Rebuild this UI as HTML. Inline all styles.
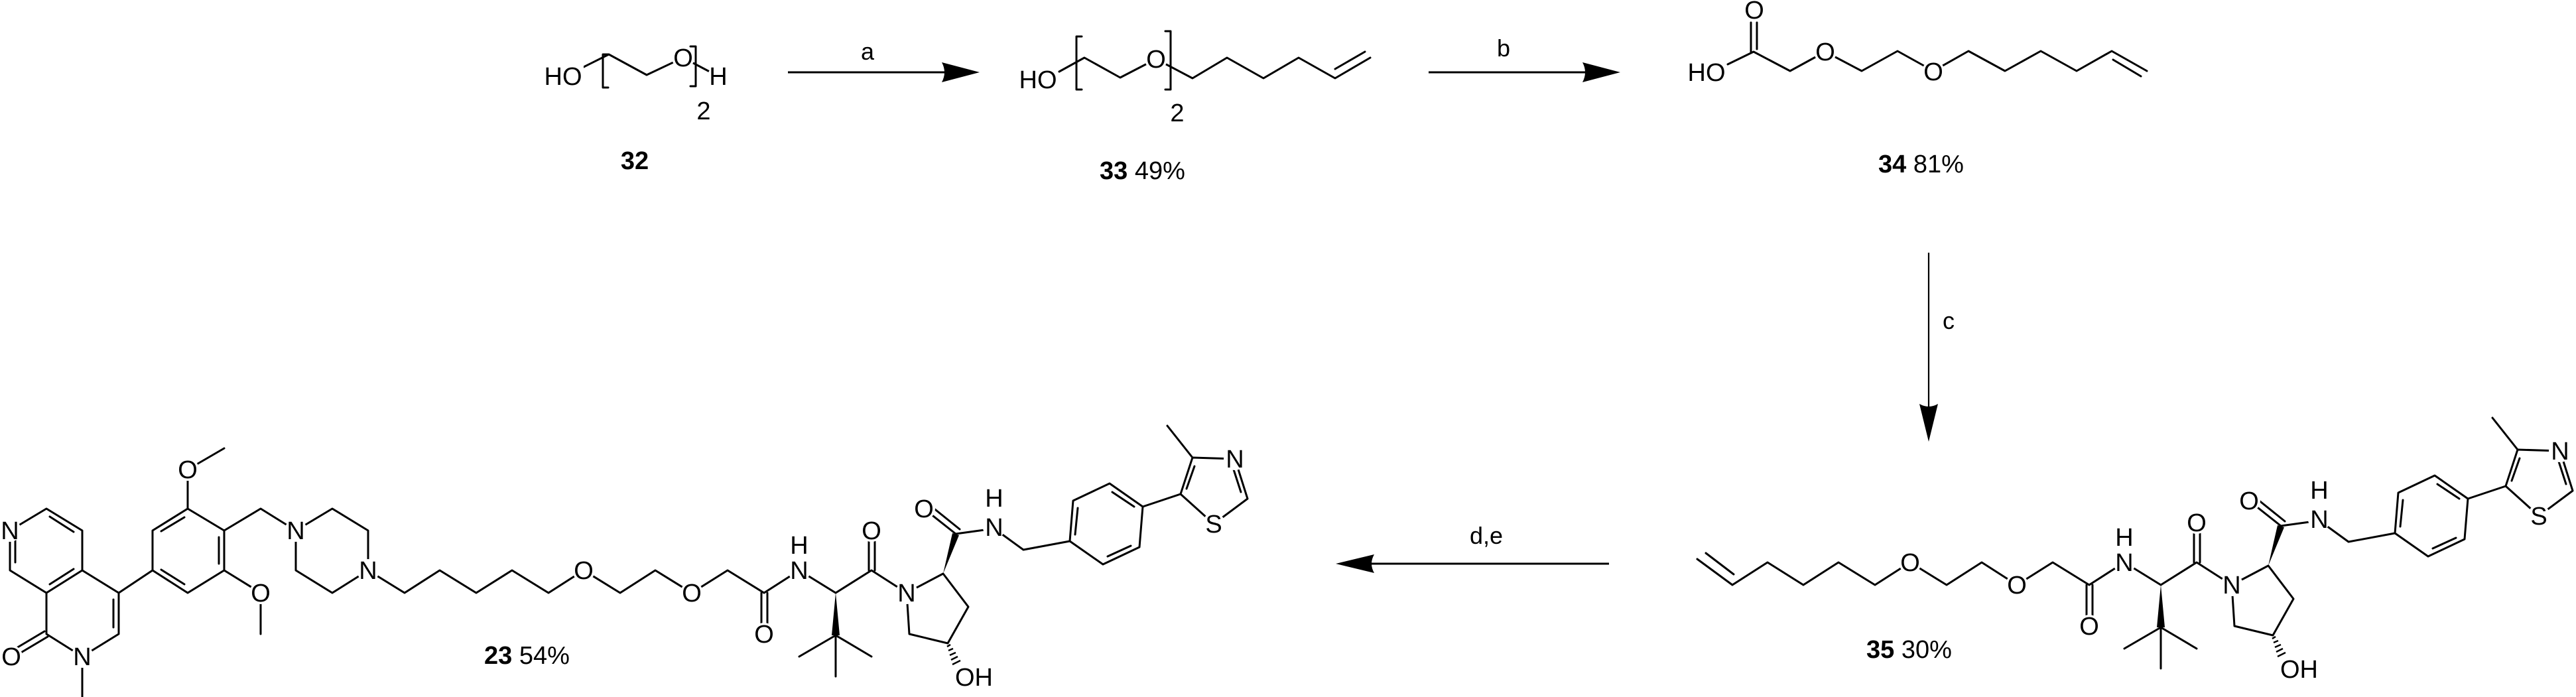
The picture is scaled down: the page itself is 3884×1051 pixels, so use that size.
<!DOCTYPE html>
<html><head><meta charset="utf-8"><style>
html,body{margin:0;padding:0;background:#fff;}
svg{display:block;}
.b{stroke:#000;stroke-width:3;fill:none;stroke-linecap:round;stroke-linejoin:round;}
.t{font-family:"Liberation Sans",Arial,sans-serif;font-size:38px;text-anchor:middle;fill:#000;}
.l{font-family:"Liberation Sans",Arial,sans-serif;font-size:36px;text-anchor:middle;fill:#000;}
.c{font-family:"Liberation Sans",Arial,sans-serif;font-size:38px;fill:#000;}
.w{fill:#fff;}
</style></head><body>
<svg width="3884" height="1051" viewBox="0 0 3884 1051" xmlns="http://www.w3.org/2000/svg">
<rect width="3884" height="1051" fill="#fff"/>

<!-- 32 -->
<g>
<path class="b" d="M880 101 L918 82 L975 113 L1030 87 L1083 115"/>
<path class="b" d="M917 82 L909 82 L909 132 L917 132"/>
<path class="b" d="M1041 70 L1049 70 L1049 130 L1041 130"/>
<rect class="w" x="820" y="97" width="60" height="36"/>
<circle class="w" cx="1030" cy="87" r="17"/>
<circle class="w" cx="1083" cy="115" r="16"/>
<text class="t" x="849" y="128">HO</text>
<text class="t" x="1030" y="100">O</text>
<text class="t" x="1083" y="128">H</text>
<text class="t" x="1061" y="180">2</text>
<text class="c" x="957" y="255" text-anchor="middle" font-weight="bold">32</text>
</g>

<!-- arrow a -->
<line x1="1188" y1="109" x2="1428" y2="109" stroke="#000" stroke-width="3"/>
<path d="M1477 109 L1420 94 Q1428 109 1420 124 Z" fill="#000"/>
<text class="l" x="1308" y="90">a</text>

<!-- 33 -->
<g>
<path class="b" d="M1597 108 L1635 87 L1689 117 L1743 89 L1798 118 L1850 87 L1905 118 L1958 87 L2013 118 L2066 87"/>
<path class="b" d="M2013 104 L2058 78"/>
<path class="b" d="M1631 55 L1623 55 L1623 135 L1631 135"/>
<path class="b" d="M1757 47 L1765 47 L1765 135 L1757 135"/>
<rect class="w" x="1535" y="102" width="60" height="36"/>
<circle class="w" cx="1743" cy="89" r="17"/>
<text class="t" x="1565" y="133">HO</text>
<text class="t" x="1743" y="102">O</text>
<text class="t" x="1775" y="183">2</text>
<text class="c" x="1658" y="270"><tspan font-weight="bold">33</tspan> 49%</text>
</g>

<!-- arrow b -->
<line x1="2154" y1="109" x2="2394" y2="109" stroke="#000" stroke-width="3"/>
<path d="M2443 109 L2386 94 Q2394 109 2386 124 Z" fill="#000"/>
<text class="l" x="2267" y="85">b</text>

<!-- 34 -->
<g>
<path class="b" d="M2605 97 L2644 78 L2699 107 L2752 78 L2807 107 L2861 77 L2915 107 L2968 77 L3023 107 L3077 77 L3131 107 L3184 77 L3237 107"/>
<path class="b" d="M2640 78 L2640 34 M2649 74 L2649 34"/>
<path class="b" d="M3186 90 L3228 115"/>
<rect class="w" x="2543" y="91" width="60" height="36"/>
<circle class="w" cx="2645" cy="15" r="17"/>
<circle class="w" cx="2752" cy="78" r="17"/>
<circle class="w" cx="2915" cy="108" r="17"/>
<text class="t" x="2573" y="122">HO</text>
<text class="t" x="2645" y="28">O</text>
<text class="t" x="2752" y="91">O</text>
<text class="t" x="2915" y="121">O</text>
<text class="c" x="2832" y="260"><tspan font-weight="bold">34</tspan> 81%</text>
</g>

<!-- arrow c -->
<line x1="2908" y1="381" x2="2908" y2="618" stroke="#000" stroke-width="2.2"/>
<path d="M2908 666 L2894 609 Q2908 617 2922 609 Z" fill="#000"/>
<text class="l" x="2938" y="496">c</text>

<!-- arrow d,e -->
<line x1="2426" y1="850" x2="2064" y2="850" stroke="#000" stroke-width="3"/>
<path d="M2014 850 L2072 836 Q2064 850 2072 864 Z" fill="#000"/>
<text class="l" x="2241" y="820">d,e</text>

<!-- shared fragment (23 coordinates) -->
<defs>
<g id="frag">
<path class="b" d="M1043 894 L1097 860 L1152 894 L1205 860 L1260 894 L1314 860 L1367 894 L1422 865 L1460 915 L1429 970 L1371 956 L1367 894"/>
<path class="b" d="M1148 894 L1148 940 M1157 894 L1157 940"/>
<path class="b" d="M1310 860 L1310 815 M1319 860 L1319 815"/>
<path class="b" d="M1260 958 L1205 990 M1260 958 L1314 990 M1260 958 L1260 1020"/>
<polygon points="1260,894 1254,958 1266,958" fill="#000"/>
<polygon points="1422,865 1436,804 1446,807" fill="#000"/>
<path class="b" d="M1441 805 L1393 767 M1447 798 L1401 761"/>
<path class="b" d="M1441 805 L1499 797 L1543 829 L1613 816"/>
<path class="b" d="M1613 816 L1618 755 L1673 729 L1723 764 L1718 825 L1663 851 Z"/>
<path class="b" d="M1621 806 L1625 766 M1677 742 L1710 764 M1705 823 L1670 839"/>
<path class="b" d="M1723 764 L1780 745"/>
<path class="b" d="M1780 745 L1798 690 L1862 692 L1881 752 L1830 790 Z"/>
<path class="b" d="M1789 737 L1801 703 M1860 708 L1871 742 M1798 690 L1760 642"/>
<path d="M1428 975 L1433 972 M1430 981 L1437 978 M1432 988 L1441 984 M1434 995 L1444 990 M1436 1002 L1448 996" stroke="#000" stroke-width="2.5"/>
<circle class="w" cx="1043" cy="894" r="17"/>
<circle class="w" cx="1152" cy="956" r="17"/>
<circle class="w" cx="1205" cy="860" r="17"/>
<circle class="w" cx="1314" cy="800" r="17"/>
<circle class="w" cx="1367" cy="894" r="17"/>
<circle class="w" cx="1393" cy="767" r="17"/>
<circle class="w" cx="1499" cy="795" r="17"/>
<circle class="w" cx="1862" cy="692" r="17"/>
<circle class="w" cx="1830" cy="790" r="17"/>
<text class="t" x="1043" y="907">O</text>
<text class="t" x="1152" y="969">O</text>
<text class="t" x="1205" y="873">N</text>
<text class="t" x="1205" y="835">H</text>
<text class="t" x="1314" y="813">O</text>
<text class="t" x="1367" y="907">N</text>
<text class="t" x="1393" y="780">O</text>
<text class="t" x="1499" y="808">N</text>
<text class="t" x="1499" y="764">H</text>
<text class="t" x="1862" y="705">N</text>
<text class="t" x="1830" y="803">S</text>
<text class="c" x="1440" y="1034">OH</text>
</g>
</defs>

<!-- 23 -->
<g>
<path class="b" d="M70 767 L124 800 L124 860 L70 894 L15 860 L15 800 Z"/>
<path class="b" d="M124 860 L179 894 L179 956 L124 990 L70 956 L70 894"/>
<path class="b" d="M75 779 L111 802 M23 848 L23 815 M111 858 L75 881 M171 904 L171 946"/>
<path class="b" d="M72 960 L30 985 M67 952 L25 977"/>
<path class="b" d="M124 995 L124 1051"/>
<path class="b" d="M179 894 L230 860"/>
<path class="b" d="M230 860 L230 800 L283 767 L338 800 L338 860 L283 894 Z"/>
<path class="b" d="M243 801 L278 780 M330 810 L330 850 M243 859 L278 881"/>
<path class="b" d="M283 767 L283 708 L338 676"/>
<path class="b" d="M338 860 L393 894 L393 956"/>
<path class="b" d="M338 800 L393 767 L446 800"/>
<path class="b" d="M446 800 L501 767 L555 800 L555 860 L501 894 L446 860 Z"/>
<path class="b" d="M555 860 L610 894 L663 860 L718 894 L772 860 L827 894 L880 860 L935 894 L988 860 L1043 894"/>
<circle class="w" cx="15" cy="800" r="17"/>
<circle class="w" cx="124" cy="990" r="17"/>
<circle class="w" cx="17" cy="990" r="17"/>
<circle class="w" cx="283" cy="708" r="17"/>
<circle class="w" cx="393" cy="894" r="17"/>
<circle class="w" cx="446" cy="800" r="17"/>
<circle class="w" cx="555" cy="860" r="17"/>
<circle class="w" cx="880" cy="860" r="17"/>
<text class="t" x="15" y="813">N</text>
<text class="t" x="124" y="1003">N</text>
<text class="t" x="17" y="1003">O</text>
<text class="t" x="283" y="721">O</text>
<text class="t" x="393" y="907">O</text>
<text class="t" x="446" y="813">N</text>
<text class="t" x="555" y="873">N</text>
<text class="t" x="880" y="873">O</text>
<use href="#frag"/>
<text class="c" x="730" y="1001"><tspan font-weight="bold">23</tspan> 54%</text>
</g>

<!-- 35 -->
<g>
<path class="b" d="M2559 843 L2612 882 L2665 848 L2719 882 L2772 848 L2827 882 L2880 848 L2935 882 L2988 848 L3041 882"/>
<path class="b" d="M2572 834 L2614 866"/>
<circle class="w" cx="2880" cy="848" r="17"/>
<text class="t" x="2880" y="861">O</text>
<use href="#frag" transform="translate(1998,-12)"/>
<text class="c" x="2814" y="992"><tspan font-weight="bold">35</tspan> 30%</text>
</g>
</svg>
</body></html>
